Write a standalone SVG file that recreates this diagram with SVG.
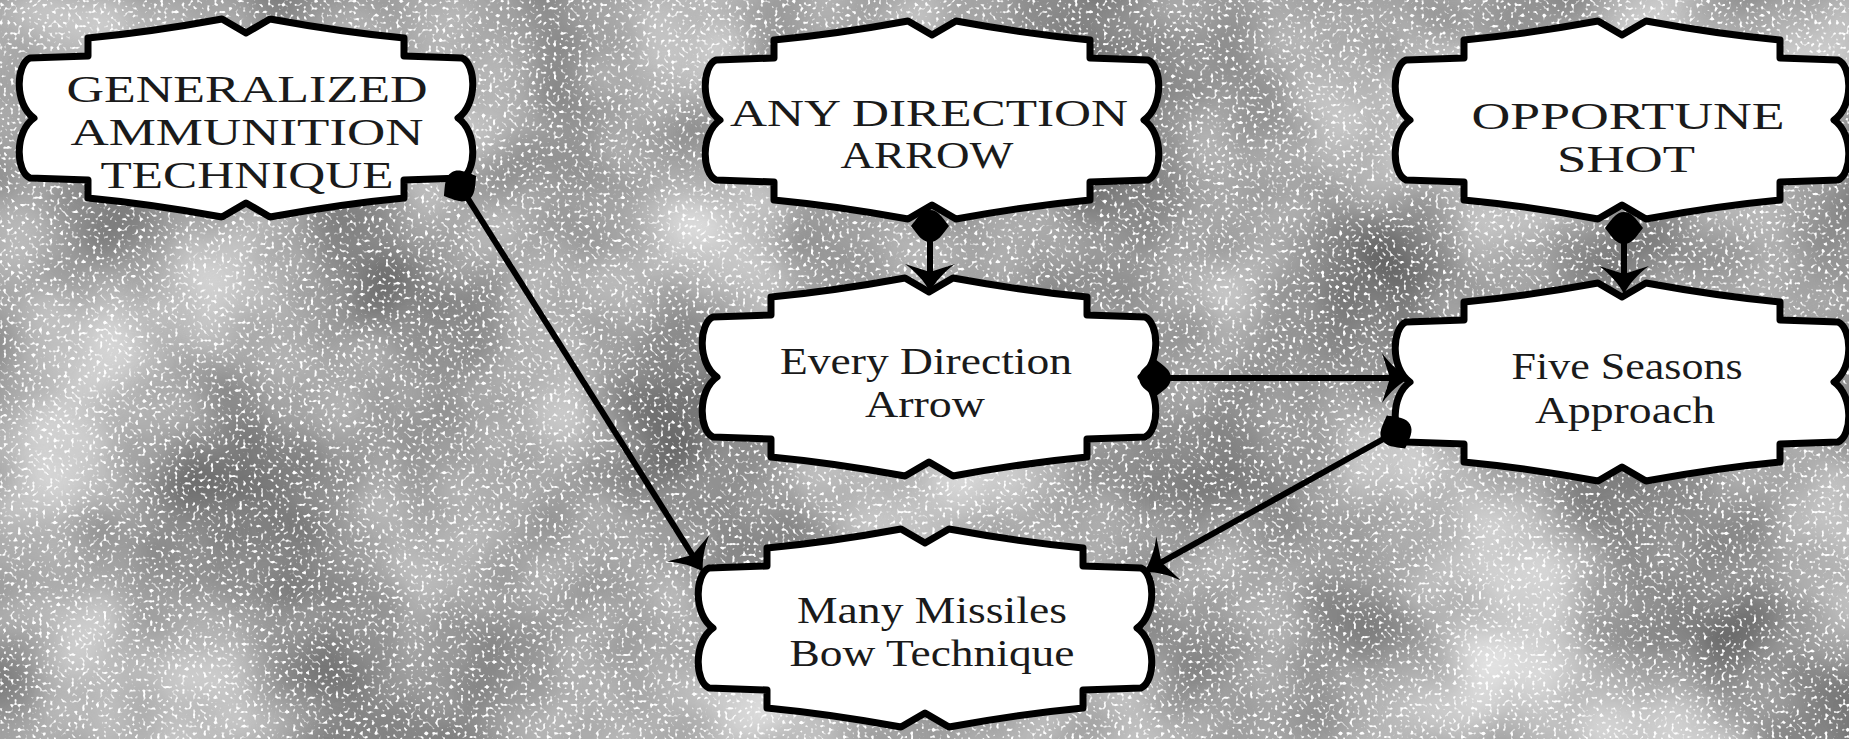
<svg xmlns="http://www.w3.org/2000/svg" width="1849" height="739" viewBox="0 0 1849 739">
  <style>
    .frame { fill: #ffffff; stroke: #000000; stroke-width: 7; stroke-linejoin: round; }
    .caps { font-family: "Liberation Serif", "DejaVu Serif", serif; fill: #1a1a1a; text-anchor: middle; }
    .lower { font-family: "Liberation Serif", "DejaVu Serif", serif; fill: #1a1a1a; text-anchor: middle; font-size: 38px; }
    .conn { stroke: #000000; stroke-width: 6; fill: none; marker-start: url(#blob); marker-end: url(#arrow); }
  </style>
  <defs>
    <filter id="blotch" filterUnits="userSpaceOnUse" x="0" y="0" width="1849" height="739" color-interpolation-filters="sRGB">
      <feTurbulence type="fractalNoise" baseFrequency="0.005" numOctaves="3" seed="7"/>
      <feColorMatrix type="matrix" values="0.75 0 0 0 0.26  0.75 0 0 0 0.26  0.75 0 0 0 0.26  0 0 0 0 1"/>
    </filter>
    <filter id="speck" filterUnits="userSpaceOnUse" x="0" y="0" width="1849" height="739" color-interpolation-filters="sRGB">
      <feTurbulence type="fractalNoise" baseFrequency="0.28" numOctaves="1" seed="3"/>
      <feColorMatrix type="matrix" values="0 0 0 0 1  0 0 0 0 1  0 0 0 0 1  7 0 0 0 -4"/>
    </filter>
    <path id="shape" class="frame" d="M 0,-85 L 24,-99 Q 95,-86 158,-80 L 158,-62 L 216,-60 C 230,-54 232,-14 212,0 C 232,14 230,54 216,60 L 158,62 L 158,80 Q 95,86 24,99 L 0,85 L -24,99 Q -95,86 -158,80 L -158,62 L -216,60 C -230,54 -232,14 -212,0 C -232,-14 -230,-54 -216,-60 L -158,-62 L -158,-80 Q -95,-86 -24,-99 Z"/>
    <marker id="arrow" markerUnits="userSpaceOnUse" orient="auto" overflow="visible" markerWidth="1" markerHeight="1" refX="0" refY="0">
      <path d="M 10,0 C 0,-5 -10,-14 -18,-25 L -10,0 L -18,25 C -10,14 0,5 10,0 Z" fill="#000000"/>
    </marker>
    <marker id="blob" markerUnits="userSpaceOnUse" orient="auto" overflow="visible" markerWidth="1" markerHeight="1" refX="0" refY="0">
      <path d="M 0,-19 C 9,-12 16,-8 16,0 C 16,8 9,12 0,19 C -9,12 -16,8 -16,0 C -16,-8 -9,-12 0,-19 Z" fill="#000000"/>
    </marker>
  </defs>

  <g id="background">
    <rect width="1849" height="739" fill="#a0a0a0"/>
    <rect width="1849" height="739" filter="url(#blotch)"/>
    <rect width="1849" height="739" filter="url(#speck)"/>
  </g>

  <g id="node-generalized-ammunition-technique">
    <use href="#shape" x="246" y="118"/>
    <text class="caps" font-size="38"><tspan x="247" y="102" textLength="361" lengthAdjust="spacingAndGlyphs">GENERALIZED</tspan><tspan x="247" y="145" textLength="353" lengthAdjust="spacingAndGlyphs">AMMUNITION</tspan><tspan x="247" y="188" textLength="293" lengthAdjust="spacingAndGlyphs">TECHNIQUE</tspan></text>
  </g>

  <g id="node-any-direction-arrow">
    <use href="#shape" x="932" y="120"/>
    <text class="caps" font-size="38"><tspan x="929" y="126" textLength="398" lengthAdjust="spacingAndGlyphs">ANY DIRECTION</tspan><tspan x="927" y="168" textLength="173" lengthAdjust="spacingAndGlyphs">ARROW</tspan></text>
  </g>

  <g id="node-opportune-shot">
    <use href="#shape" x="1622" y="120"/>
    <text class="caps" font-size="38"><tspan x="1628" y="129" textLength="313" lengthAdjust="spacingAndGlyphs">OPPORTUNE</tspan><tspan x="1626" y="172" textLength="138" lengthAdjust="spacingAndGlyphs">SHOT</tspan></text>
  </g>

  <g id="node-every-direction-arrow">
    <use href="#shape" x="929" y="377"/>
    <text class="lower"><tspan x="926" y="374" textLength="292" lengthAdjust="spacingAndGlyphs">Every Direction</tspan><tspan x="925" y="417" textLength="120" lengthAdjust="spacingAndGlyphs">Arrow</tspan></text>
  </g>

  <g id="node-five-seasons-approach">
    <use href="#shape" x="1622" y="382"/>
    <text class="lower"><tspan x="1627" y="379" textLength="231" lengthAdjust="spacingAndGlyphs">Five Seasons</tspan><tspan x="1625" y="423" textLength="180" lengthAdjust="spacingAndGlyphs">Approach</tspan></text>
  </g>

  <g id="node-many-missiles-bow-technique">
    <use href="#shape" x="925" y="628"/>
    <text class="lower"><tspan x="932" y="623" textLength="270" lengthAdjust="spacingAndGlyphs">Many Missiles</tspan><tspan x="932" y="666" textLength="285" lengthAdjust="spacingAndGlyphs">Bow Technique</tspan></text>
  </g>

  <g id="connectors">
    <line class="conn" x1="460" y1="186" x2="697.7" y2="563.5"/>
    <line class="conn" x1="930" y1="226" x2="930" y2="282"/>
    <line class="conn" x1="1624" y1="228" x2="1624" y2="284"/>
    <line class="conn" x1="1155" y1="378" x2="1400" y2="378"/>
    <line class="conn" x1="1396" y1="432" x2="1152.7" y2="567.1"/>
  </g>
</svg>
